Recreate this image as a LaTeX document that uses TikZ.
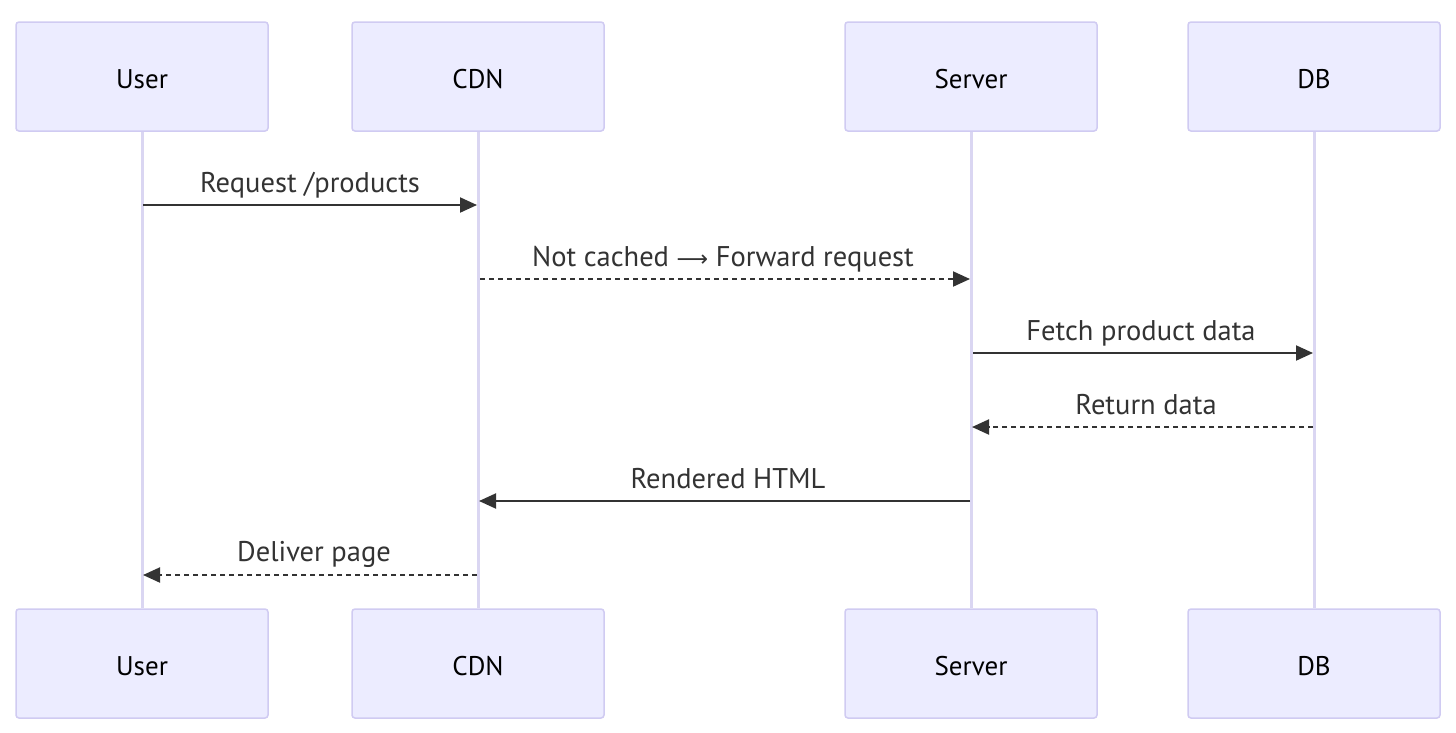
\documentclass[tikz,border=0pt]{standalone}
\usepackage{fontspec}
\setmainfont{PT Sans}
\newfontfamily\symfont{DejaVu Sans}
\usetikzlibrary{arrows.meta}
\definecolor{actfill}{HTML}{ECECFF}
\definecolor{actdraw}{HTML}{D0CBF2}
\definecolor{lifecol}{HTML}{DAD6F2}
\definecolor{msgcol}{HTML}{333333}
\begin{document}
\begin{tikzpicture}[x=1pt,y=-1pt,
  actor/.style={draw=actdraw,fill=actfill,line width=1.5pt,rounded corners=3pt,minimum width=252pt,minimum height=109pt,inner sep=0pt,font=\fontsize{27}{32}\selectfont,text=black},
  life/.style={draw=lifecol,line width=3pt},
  msg/.style={draw=msgcol,line width=2pt,-{Triangle[length=17pt,width=15pt]}},
  reply/.style={msg,dash pattern=on 5pt off 4pt},
  lbl/.style={text=msgcol,font=\fontsize{28.5}{32}\selectfont,inner sep=0pt}]
\useasboundingbox (0,0) rectangle (1456,732);
\fill[white] (0,0) rectangle (1456,732);
\foreach \n/\t/\x in {u/User/142,c/CDN/478,s/Server/971,d/DB/1314}{
  \node[actor] (\n top) at (\x,76.5) {\raisebox{-2.5pt}[\height][\depth]{\t}};
  \node[actor] (\n bot) at (\x,663.5) {\raisebox{-2.5pt}[\height][\depth]{\t}};
  \draw[life] (\n top.south) -- (\n bot.north);
}
\foreach \n/\x in {u/142,c/478,s/971,d/1314}{
  \foreach \k/\y in {1/205,2/279,3/353,4/427,5/501,6/575}{
    \coordinate (\n\k) at (\x,\y);
  }
}
\draw[msg] ([xshift=1pt]u1) -- ([xshift=-1pt]c1);
\node[lbl,anchor=base] at (310,192) {Request /products};
\draw[reply] ([xshift=2pt]c2) -- ([xshift=-1pt]s2);
\node[lbl,anchor=base] at (723,266) {Not cached {\symfont\fontsize{22}{24}\selectfont⟶} Forward request};
\draw[msg] ([xshift=2pt]s3) -- ([xshift=-1pt]d3);
\node[lbl,anchor=base] at (1141,340) {Fetch product data};
\draw[reply] ([xshift=-1pt]d4) -- ([xshift=1pt]s4);
\node[lbl,anchor=base] at (1146,414) {Return data};
\draw[msg] ([xshift=-1pt]s5) -- ([xshift=1pt]c5);
\node[lbl,anchor=base] at (728,488) {Rendered HTML};
\draw[reply] ([xshift=-1pt]c6) -- ([xshift=1pt]u6);
\node[lbl,anchor=base] at (314,561) {Deliver page};
\end{tikzpicture}
\end{document}
